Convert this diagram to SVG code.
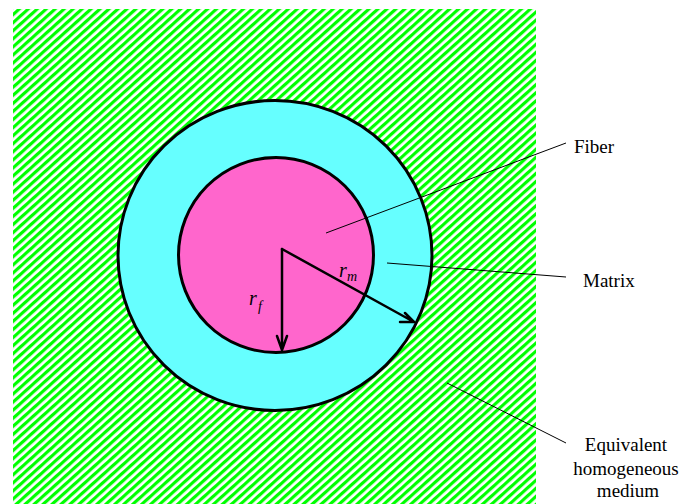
<svg xmlns="http://www.w3.org/2000/svg" width="686" height="504" viewBox="0 0 686 504">
<style>
.lbl{font-family:"Liberation Serif","Times New Roman",serif;font-size:19px;fill:#000}
.it{font-family:"Liberation Serif","Times New Roman",serif;font-style:italic;fill:#000}
.lead{stroke:#000;stroke-width:1;fill:none}
.arr{stroke:#000;stroke-width:2.5;fill:none;stroke-linecap:round;stroke-linejoin:round}
</style>
<defs>
<pattern id="hatch" width="6" height="6" patternUnits="userSpaceOnUse" patternTransform="rotate(-42)">
<rect width="6" height="6" fill="#fff"/>
<rect width="6" height="3.2" fill="#00ff00"/>
</pattern>
</defs>
<rect width="686" height="504" fill="#fff"/>
<g id="medium">
<rect x="13" y="9" width="523" height="495" fill="url(#hatch)"/>
</g>
<g id="matrix">
<ellipse cx="275" cy="255.5" rx="157" ry="155" fill="#66ffff" stroke="#000" stroke-width="3"/>
</g>
<g id="fiber">
<circle cx="276" cy="255" r="97.5" fill="#ff66cc" stroke="#000" stroke-width="3"/>
</g>
<g id="connectors">
<path class="arr" d="M282,249 L282,350 M277,336 L282,350 L287,336"/>
<path class="arr" d="M282,249 L414,322 M400,322 L414,322 L405,313"/>
<path class="lead" d="M326,233 L566,143"/>
<path class="lead" d="M387,263 L566,277"/>
<path class="lead" d="M447,383 L566,443"/>
</g>
<g id="labels">
<text class="it" x="249" y="305" font-size="20">r</text>
<text class="it" x="258" y="311" font-size="14">f</text>
<text class="it" x="339" y="277" font-size="20">r</text>
<text class="it" x="347" y="281" font-size="14">m</text>
<text class="lbl" x="574" y="153">Fiber</text>
<text class="lbl" x="583" y="287">Matrix</text>
<text class="lbl" x="626" y="451" text-anchor="middle">Equivalent</text>
<text class="lbl" x="626" y="475" text-anchor="middle">homogeneous</text>
<text class="lbl" x="628" y="497" text-anchor="middle">medium</text>
</g>
</svg>
